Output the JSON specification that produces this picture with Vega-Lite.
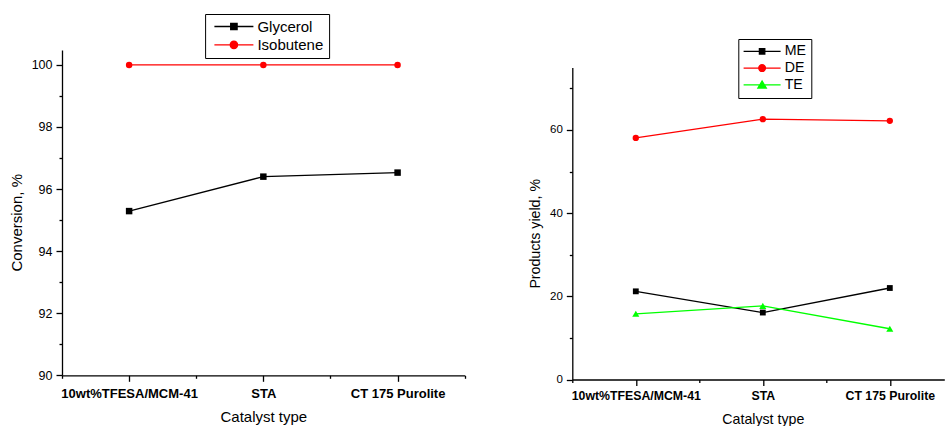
{
  "$schema": "https://vega.github.io/schema/vega-lite/v6.json",
  "background": "white",
  "padding": {"left": 9, "top": 13, "right": 0, "bottom": 0},
  "bounds": "flush",
  "spacing": 107.3,
  "config": {"view": {"stroke": null}, "font": "Liberation Sans"},
  "datasets": {
    "conversion": [
      {"idx": 1, "catalyst": "10wt%TFESA/MCM-41", "series": "Glycerol", "value": 95.29},
      {"idx": 2, "catalyst": "STA", "series": "Glycerol", "value": 96.40},
      {"idx": 3, "catalyst": "CT 175 Purolite", "series": "Glycerol", "value": 96.53},
      {"idx": 1, "catalyst": "10wt%TFESA/MCM-41", "series": "Isobutene", "value": 100},
      {"idx": 2, "catalyst": "STA", "series": "Isobutene", "value": 100},
      {"idx": 3, "catalyst": "CT 175 Purolite", "series": "Isobutene", "value": 100}
    ],
    "yield": [
      {"idx": 1, "catalyst": "10wt%TFESA/MCM-41", "series": "ME", "value": 21.2},
      {"idx": 2, "catalyst": "STA", "series": "ME", "value": 16.1},
      {"idx": 3, "catalyst": "CT 175 Purolite", "series": "ME", "value": 22.0},
      {"idx": 1, "catalyst": "10wt%TFESA/MCM-41", "series": "DE", "value": 58.1},
      {"idx": 2, "catalyst": "STA", "series": "DE", "value": 62.6},
      {"idx": 3, "catalyst": "CT 175 Purolite", "series": "DE", "value": 62.2},
      {"idx": 1, "catalyst": "10wt%TFESA/MCM-41", "series": "TE", "value": 15.8},
      {"idx": 2, "catalyst": "STA", "series": "TE", "value": 17.7},
      {"idx": 3, "catalyst": "CT 175 Purolite", "series": "TE", "value": 12.2}
    ]
  },
  "resolve": {
    "scale": {"x": "independent", "y": "independent", "color": "independent"},
    "axis": {"x": "independent", "y": "independent"},
    "legend": {"color": "independent"}
  },
  "hconcat": [
    {
      "width": 402.7,
      "height": 325.3,
      "data": {"name": "conversion"},
      "encoding": {
        "x": {
          "field": "idx", "type": "quantitative",
          "scale": {"domain": [0.5, 3.5], "nice": false, "zero": false},
          "axis": {
            "title": "Catalyst type",
            "values": [0.5, 1, 1.5, 2, 2.5, 3, 3.5],
            "labelExpr": "datum.value === 1 ? '10wt%TFESA/MCM-41' : datum.value === 2 ? 'STA' : datum.value === 3 ? 'CT 175 Purolite' : ''",
            "grid": false,
            "domainColor": "black", "domainWidth": 1.3,
            "tickColor": "black", "tickWidth": 1.3,
            "tickSize": {"condition": {"test": "datum.value % 1 !== 0", "value": 3}, "value": 6},
            "labelFont": "Liberation Sans", "labelFontWeight": "bold", "labelFontSize": 13, "labelColor": "black",
            "labelPadding": 6, "labelFlush": false, "labelOverlap": false,
            "titleFont": "Liberation Sans", "titleFontSize": 15, "titleFontWeight": "normal", "titleColor": "black",
            "titleX": 201.35, "titleY": 33.8
          }
        },
        "y": {
          "field": "value", "type": "quantitative",
          "scale": {"domain": [90, 100.48], "nice": false, "zero": false},
          "axis": {
            "title": "Conversion, %",
            "values": [90, 91, 92, 93, 94, 95, 96, 97, 98, 99, 100],
            "labelExpr": "datum.value % 2 === 0 ? datum.label : ''",
            "grid": false,
            "domainColor": "black", "domainWidth": 1.3,
            "tickColor": "black", "tickWidth": 1.3,
            "tickSize": {"condition": {"test": "datum.value % 2 !== 0", "value": 3}, "value": 6},
            "labelFont": "Liberation Sans", "labelFontSize": 12.5, "labelColor": "black", "labelPadding": 4,
            "labelFlush": false, "labelOverlap": false,
            "titleFont": "Liberation Sans", "titleFontSize": 15, "titleFontWeight": "normal", "titleColor": "black",
            "titleBaseline": "alphabetic", "titleX": -40.8, "titleY": 172.3
          }
        }
      },
      "layer": [
        {
          "mark": {"type": "line", "strokeWidth": 1.3},
          "encoding": {
            "color": {
              "field": "series", "type": "nominal",
              "scale": {"domain": ["Glycerol", "Isobutene"], "range": ["#000000", "#ff0000"]},
              "legend": {
                "orient": "none", "legendX": 143.1, "legendY": -36,
                "title": null,
                "strokeColor": "black", "padding": 5,
                "labelFont": "Liberation Sans", "labelFontSize": 15, "labelColor": "black",
                "symbolSize": 64, "symbolStrokeWidth": 1.3,
                "symbolOffset": 16.3, "labelOffset": 16, "rowPadding": 2.3,
                "encode": {
                  "symbols": {"update": {
                    "shape": {"signal": "datum.value === 'Glycerol' ? 'M -4.875 0 L 4.875 0 M -0.8 -0.8 L 0.8 -0.8 L 0.8 0.8 L -0.8 0.8 Z' : 'M -4.875 0 L 4.875 0 M -0.925 0 A 0.925 0.925 0 1 0 0.925 0 A 0.925 0.925 0 1 0 -0.925 0 Z'"},
                    "fill": {"signal": "datum.value === 'Glycerol' ? '#000000' : '#ff0000'"},
                    "strokeWidth": {"value": 1.3}
                  }}
                }
              }
            }
          }
        },
        {
          "transform": [{"filter": "datum.series === 'Glycerol'"}],
          "mark": {"type": "point", "filled": true, "opacity": 1, "size": 42, "shape": "square", "color": "#000000"}
        },
        {
          "transform": [{"filter": "datum.series === 'Isobutene'"}],
          "mark": {"type": "point", "filled": true, "opacity": 1, "size": 42, "shape": "circle", "color": "#ff0000"}
        }
      ]
    },
    {
      "width": 372,
      "height": 329.5,
      "data": {"name": "yield"},
      "encoding": {
        "x": {
          "field": "idx", "type": "quantitative",
          "scale": {"domain": [0.5, 3.429], "nice": false, "zero": false},
          "axis": {
            "title": "Catalyst type",
            "values": [0.5, 1, 1.5, 2, 2.5, 3],
            "labelExpr": "datum.value === 1 ? '10wt%TFESA/MCM-41' : datum.value === 2 ? 'STA' : datum.value === 3 ? 'CT 175 Purolite' : ''",
            "grid": false,
            "domainColor": "black", "domainWidth": 1.3,
            "tickColor": "black", "tickWidth": 1.3,
            "tickSize": {"condition": {"test": "datum.value % 1 !== 0", "value": 3}, "value": 6},
            "labelFont": "Liberation Sans", "labelFontWeight": "bold", "labelFontSize": 12.3, "labelColor": "black",
            "labelPadding": 3.6, "labelFlush": false, "labelOverlap": false,
            "titleFont": "Liberation Sans", "titleFontSize": 14.2, "titleFontWeight": "normal", "titleColor": "black",
            "titleX": 190.5, "titleY": 33.3
          }
        },
        "y": {
          "field": "value", "type": "quantitative",
          "scale": {"domain": [0, 75], "range": [329.5, 17.6], "nice": false, "zero": false},
          "axis": {
            "title": "Products yield, %",
            "values": [0, 10, 20, 30, 40, 50, 60, 70],
            "labelExpr": "datum.value % 20 === 0 ? datum.label : ''",
            "grid": false,
            "domainColor": "black", "domainWidth": 1.3,
            "tickColor": "black", "tickWidth": 1.3,
            "tickSize": {"condition": {"test": "datum.value % 20 !== 0", "value": 3}, "value": 6},
            "labelFont": "Liberation Sans", "labelFontSize": 11.5, "labelColor": "black", "labelPadding": 4,
            "labelFlush": false, "labelOverlap": false,
            "titleFont": "Liberation Sans", "titleFontSize": 14.2, "titleFontWeight": "normal", "titleColor": "black",
            "titleBaseline": "alphabetic", "titleX": -32.6, "titleY": 183.3
          }
        }
      },
      "layer": [
        {
          "mark": {"type": "line", "strokeWidth": 1.3},
          "encoding": {
            "color": {
              "field": "series", "type": "nominal",
              "scale": {"domain": ["ME", "DE", "TE"], "range": ["#000000", "#ff0000", "#00ff00"]},
              "legend": {
                "orient": "none", "legendX": 166, "legendY": -11,
                "title": null,
                "strokeColor": "black", "padding": 5.2,
                "labelFont": "Liberation Sans", "labelFontSize": 14.2, "labelColor": "black",
                "symbolSize": 64, "symbolStrokeWidth": 1.3,
                "symbolOffset": 11.5, "labelOffset": 15.5, "rowPadding": 1.8,
                "encode": {
                  "symbols": {"update": {
                    "shape": {"signal": "datum.value === 'ME' ? 'M -4.625 0 L 4.625 0 M -0.675 -0.675 L 0.675 -0.675 L 0.675 0.675 L -0.675 0.675 Z' : datum.value === 'DE' ? 'M -4.625 0 L 4.625 0 M -0.84 0 A 0.84 0.84 0 1 0 0.84 0 A 0.84 0.84 0 1 0 -0.84 0 Z' : 'M -4.625 0 L 4.625 0 M 0 -0.95 L 1.05 0.8 L -1.05 0.8 Z'"},
                    "fill": {"signal": "datum.value === 'ME' ? '#000000' : datum.value === 'DE' ? '#ff0000' : '#00ff00'"},
                    "strokeWidth": {"value": 1.3}
                  }}
                }
              }
            }
          }
        },
        {
          "transform": [{"filter": "datum.series === 'ME'"}],
          "mark": {"type": "point", "filled": true, "opacity": 1, "size": 34, "shape": "square", "color": "#000000"}
        },
        {
          "transform": [{"filter": "datum.series === 'DE'"}],
          "mark": {"type": "point", "filled": true, "opacity": 1, "size": 40, "shape": "circle", "color": "#ff0000"}
        },
        {
          "transform": [{"filter": "datum.series === 'TE'"}],
          "mark": {"type": "point", "filled": true, "opacity": 1, "size": 50, "shape": "triangle-up", "color": "#00ff00"}
        }
      ]
    }
  ]
}
